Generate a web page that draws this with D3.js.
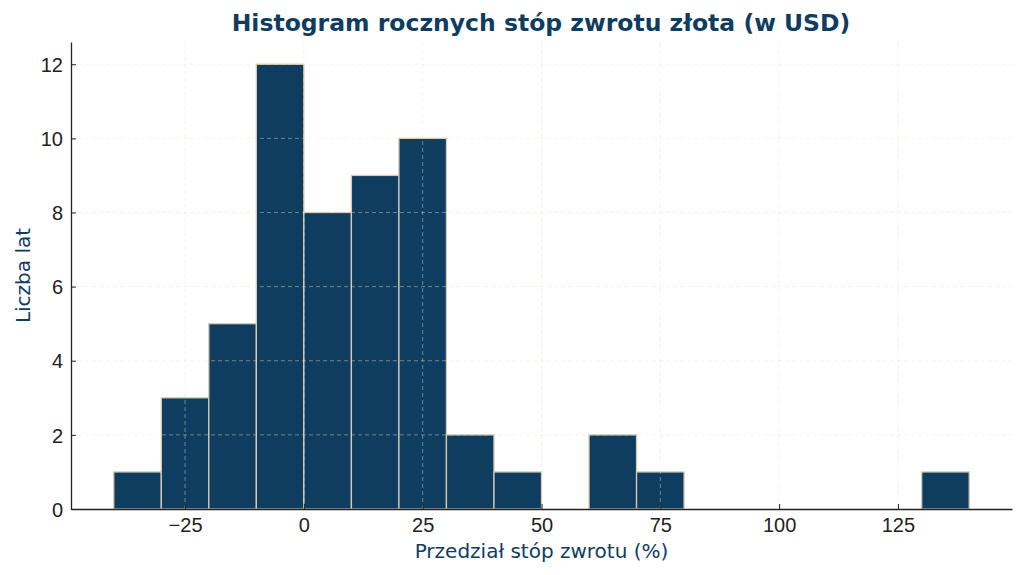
<!DOCTYPE html>
<html>
<head>
<meta charset="utf-8">
<script src="https://cdn.jsdelivr.net/npm/d3@7"></script>
<style>
  body { margin: 0; background: #fff; }
  svg { font-family: "DejaVu Sans", sans-serif; }
</style>
</head>
<body>
<div id="chart"></div>
<script>
var width = 1024, height = 575;

// bin edges (in %) and count of years per bin
var binStarts = [-40, -30, -20, -10, 0, 10, 20, 30, 40, 50, 60, 70, 80, 90, 100, 110, 120, 130];
var binWidth = 10;
var counts = [1, 3, 5, 12, 8, 9, 10, 2, 1, 0, 2, 1, 0, 0, 0, 0, 0, 1];
var xTicks = [-25, 0, 25, 50, 75, 100, 125];
var yTicks = [0, 2, 4, 6, 8, 10, 12];

var margin = { left: 71, right: 12, top: 42, bottom: 66 };

var svg = d3.select('#chart').append('svg')
    .attr('width', width)
    .attr('height', height);

var x = d3.scaleLinear()
    .domain([-49, 149])
    .range([margin.left, width - margin.right]);

var y = d3.scaleLinear()
    .domain([0, 12.6])
    .range([height - margin.bottom, margin.top]);

var navy = '#0f3d5f';

/* bars */
svg.append('g').selectAll('rect')
    .data(binStarts.map(function(s, i){ return { x0: s, x1: s + binWidth, n: counts[i] }; })
        .filter(function(d){ return d.n > 0; }))
    .join('rect')
    .attr('x', function(d){ return x(d.x0); })
    .attr('y', function(d){ return y(d.n); })
    .attr('width', function(d){ return x(d.x1) - x(d.x0); })
    .attr('height', function(d){ return y(0) - y(d.n); })
    .attr('fill', navy)
    .attr('stroke', '#d8c9b4')
    .attr('stroke-width', 1.3);

/* grid, drawn on top like the original */
var grid = svg.append('g')
    .attr('stroke', '#e8e0cc')
    .attr('stroke-opacity', 0.55)
    .attr('stroke-dasharray', '4,3')
    .attr('stroke-width', 0.8);

grid.selectAll('.gx').data(xTicks).join('line')
    .attr('x1', function(d){ return x(d); })
    .attr('x2', function(d){ return x(d); })
    .attr('y1', y(0))
    .attr('y2', margin.top);

grid.selectAll('.gy').data(yTicks.slice(1)).join('line')
    .attr('y1', function(d){ return y(d); })
    .attr('y2', function(d){ return y(d); })
    .attr('x1', margin.left)
    .attr('x2', width - margin.right);

/* axes with inward ticks */
var xAxis = svg.append('g')
    .attr('transform', 'translate(0,' + y(0) + ')')
    .call(d3.axisBottom(x).tickValues(xTicks).tickSizeInner(-5).tickSizeOuter(0)
        .tickFormat(function(d){ return d < 0 ? '\u2212' + Math.abs(d) : d; }));

var yAxis = svg.append('g')
    .attr('transform', 'translate(' + margin.left + ',0)')
    .call(d3.axisLeft(y).tickValues(yTicks).tickSizeInner(-5).tickSizeOuter(0));

[xAxis, yAxis].forEach(function(a){
    a.select('.domain').attr('stroke', '#222').attr('stroke-width', 1.3);
    a.selectAll('.tick line').attr('stroke', '#222').attr('stroke-width', 1);
    a.selectAll('.tick text').attr('fill', '#222').style('font-size', '20px');
});
xAxis.selectAll('.tick text').attr('y', 23).attr('dy', 0);
yAxis.selectAll('.tick text').attr('x', -8).attr('dy', '0.36em');

/* titles */
svg.append('text')
    .attr('x', 541)
    .attr('y', 31)
    .attr('text-anchor', 'middle')
    .attr('fill', navy)
    .style('font-size', '23.5px')
    .style('font-weight', 'bold')
    .text('Histogram rocznych stóp zwrotu złota (w USD)');

svg.append('text')
    .attr('x', x(50))
    .attr('y', 558)
    .attr('text-anchor', 'middle')
    .attr('fill', navy)
    .style('font-size', '20px')
    .text('Przedział stóp zwrotu (%)');

svg.append('text')
    .attr('transform', 'translate(30,' + ((margin.top + y(0)) / 2) + ') rotate(-90)')
    .attr('text-anchor', 'middle')
    .attr('fill', navy)
    .style('font-size', '20px')
    .text('Liczba lat');
</script>
</body>
</html>
